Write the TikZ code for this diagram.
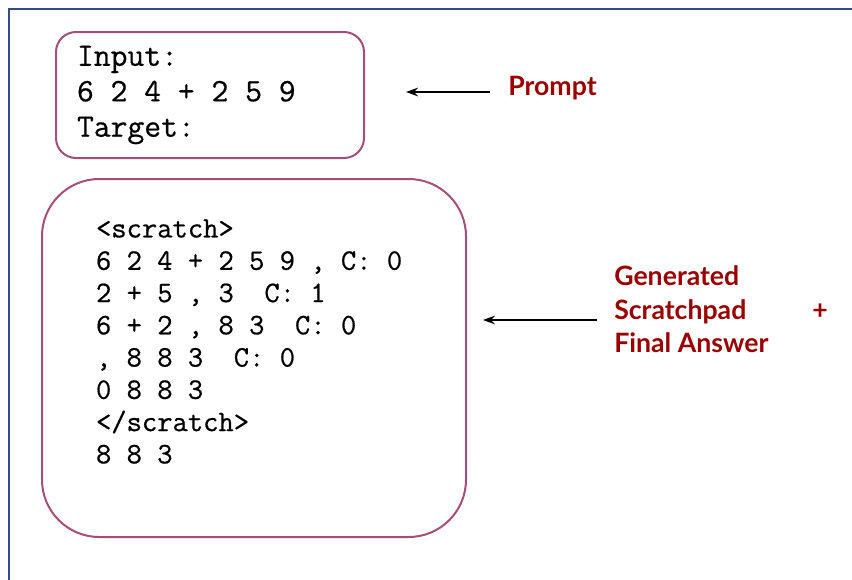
\documentclass[tikz,border=0pt]{standalone}
\usepackage{fontspec}
\newfontfamily\lato{Lato}
\newfontfamily\codefont{Latin Modern Mono}[FakeBold=0.6]
\usetikzlibrary{arrows.meta,positioning}
\definecolor{frameblue}{RGB}{44,78,140}
\definecolor{boxrose}{RGB}{166,77,121}
\definecolor{tagred}{RGB}{153,0,0}
% one monospace cell of blank
\newcommand{\ws}{\hphantom{0}}

\begin{document}
\begin{tikzpicture}[
    x=0.75pt, y=-0.75pt,
    codebox/.style={
        draw=boxrose,
        line width=1.5pt,
        align=left,
        inner xsep=0pt,
        anchor=north west
    },
    tag/.style={
        text=tagred,
        font=\lato\bfseries\fontsize{20}{25}\selectfont,
        align=left,
        inner sep=0pt
    },
    arrow/.style={-{Stealth[length=9pt,width=6.5pt]}, line width=1.1pt}
]
\useasboundingbox (0,0) rectangle (852,579);
\draw[frameblue, line width=1.5pt] (9,590) -- (9,9) -- (860,9);

\node[codebox, rounded corners=15pt, minimum width=231pt, minimum height=94.5pt,
      text width=199.5pt, font=\codefont\fontsize{24.5}{26.6}\selectfont]
      (prompt) at (55,31) {Input:\\6\ws 2\ws 4\ws +\ws 2\ws 5\ws 9\\Target:};
\node[codebox, rounded corners=43pt, minimum width=318pt, minimum height=268.5pt,
      text width=237pt, font=\codefont\fontsize{22.3}{24.2}\selectfont]
      (scratch) at (41,178) {<scratch>\\
      6\ws 2\ws 4\ws +\ws 2\ws 5\ws 9\ws ,\ws C:\ws 0\\
      2\ws +\ws 5\ws ,\ws 3\ws\ws C:\ws 1\\
      6\ws +\ws 2\ws ,\ws 8\ws 3\ws\ws C:\ws 0\\
      ,\ws 8\ws 8\ws 3\ws\ws C:\ws 0\\
      0\ws 8\ws 8\ws 3\\
      </scratch>\\
      8\ws 8\ws 3\rule[-25pt]{0pt}{0pt}};

\node[tag, right=107.25pt of prompt, yshift=5.25pt] (promptlbl) {Prompt};
\node[tag, right=110.25pt of scratch, yshift=36.4pt] (genlbl)
      {Generated\\\makebox[148.5pt][l]{Scratchpad}+\\Final Answer};

\coordinate (prompttip) at (406,92);
\coordinate (gentip) at (483,320);
\draw[arrow, shorten <=13.5pt] (promptlbl.west |- prompttip) -- (prompttip);
\draw[arrow, shorten <=12.75pt] (genlbl.west |- gentip) -- (gentip);
\end{tikzpicture}
\end{document}
